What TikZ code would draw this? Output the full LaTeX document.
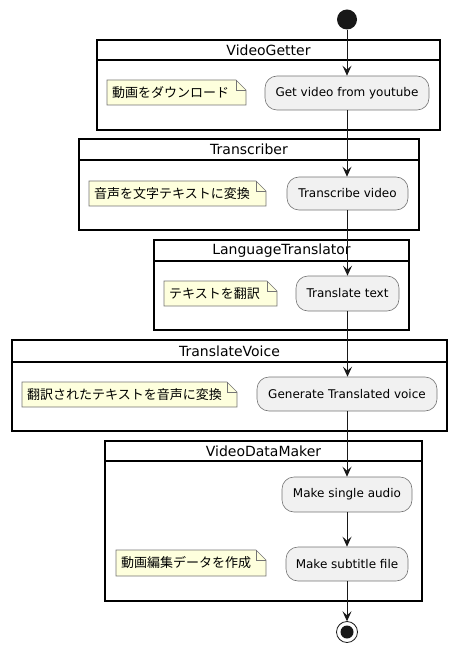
\documentclass[tikz,border=0pt]{standalone}
\usepackage{fontspec}
\setmainfont{DejaVu Sans}
\newfontfamily\jpfont{Noto Sans CJK JP}
\usetikzlibrary{arrows.meta,backgrounds}
\definecolor{ln}{HTML}{181818}
\definecolor{actfill}{HTML}{F1F1F1}
\definecolor{notefill}{HTML}{FEFFDD}
\tikzset{
  lane/.style={draw=black, line width=1.5pt},
  lanetitle/.style={font=\fontsize{14}{16}\selectfont, inner sep=0pt},
  act/.style={draw=ln!60, line width=0.6pt, fill=actfill, rounded corners=12pt, inner sep=0pt, font=\fontsize{12}{14}\selectfont},
  notetext/.style={inner sep=0pt, font=\jpfont\fontsize{13}{15}\selectfont},
  notebg/.style={draw=ln!60, line width=0.6pt, fill=notefill},
  flow/.style={draw=ln, line width=1pt, -{Stealth[length=10pt, width=9pt, inset=4pt]}},
}
\newcommand{\mknote}[5]{% name, x1, y1, x2, y2
  \begin{pgfonlayer}{background}
  \path[notebg] (#2,#3) -- (#4-10,#3) -- (#4,#3+10) -- (#4,#5) -- (#2,#5) -- cycle;
  \draw[ln!60, line width=0.6pt] (#4-10,#3) -- (#4-10,#3+10) -- (#4,#3+10);
  \end{pgfonlayer}}
\newcommand{\mklane}[6]{% name, x1, y1, x2, y2, headline y
  \draw[lane] (#2,#3) rectangle (#4,#5);
  \draw[lane] (#2,#6) -- (#4,#6);}
\begin{document}
\begin{tikzpicture}[x=1pt, y=-1pt]
\useasboundingbox (0,0) rectangle (458,652);
% lanes
\mklane{l1}{97}{40}{440}{130}{60}
\node[lanetitle] (t1) at (268.5,50.5) {VideoGetter};
\mklane{l2}{79}{139}{419}{230}{160}
\node[lanetitle] (t2) at (249,149.5) {Transcriber};
\mklane{l3}{154}{240}{409}{330}{261}
\node[lanetitle] (t3) at (281.5,250.5) {LanguageTranslator};
\mklane{l4}{12}{340}{447}{431}{362}
\node[lanetitle] (t4) at (229.5,351) {TranslateVoice};
\mklane{l5}{105}{441}{422}{601}{461}
\node[lanetitle] (t5) at (263.5,451) {VideoDataMaker};
% start / end
\fill[ln] (347,19.5) circle (10);
\node[circle, minimum size=20pt, inner sep=0pt] (start) at (347,19.5) {};
\draw[ln, line width=0.8pt] (347,632) circle (10.5);
\fill[ln] (347,632) circle (6.5);
\node[circle, minimum size=21pt, inner sep=0pt] (stop) at (347,632) {};
% actions
\node[act, minimum width=164pt, minimum height=34pt] (a1) at (347,93) {Get video from youtube};
\node[act, minimum width=121pt, minimum height=33pt] (a2) at (347.5,193.5) {Transcribe video};
\node[act, minimum width=103pt, minimum height=35pt] (a3) at (347.5,293.5) {Translate text};
\node[act, minimum width=180pt, minimum height=34pt] (a4) at (347,394) {Generate Translated voice};
\node[act, minimum width=130pt, minimum height=35pt] (a5) at (347,494.5) {Make single audio};
\node[act, minimum width=122pt, minimum height=34pt] (a6) at (347,564) {Make subtitle file};
% notes
\node[notetext, anchor=west] (n1) at (112,93) {動画をダウンロード};
\mknote{n1}{107}{80}{246}{105}
\node[notetext, anchor=west] (n2) at (94,193.5) {音声を文字テキストに変換};
\mknote{n2}{89}{181}{266}{206}
\node[notetext, anchor=west] (n3) at (169,293.5) {テキストを翻訳};
\mknote{n3}{164}{281}{277}{306}
\node[notetext, anchor=west] (n4) at (27,394.5) {翻訳されたテキストを音声に変換};
\mknote{n4}{22}{382}{237}{407}
\node[notetext, anchor=west] (n5) at (121,563) {動画編集データを作成};
\mknote{n5}{116}{550}{266}{576}
% flows
\draw[flow] (start) -- (a1);
\draw[flow] (a1) -- (a2.north -| a1);
\draw[flow] (a2) -- (a3);
\draw[flow] (a3) -- (a4.north -| a3);
\draw[flow] (a4) -- (a5);
\draw[flow] (a5) -- (a6);
\draw[flow] (a6) -- (stop);
\end{tikzpicture}
\end{document}
